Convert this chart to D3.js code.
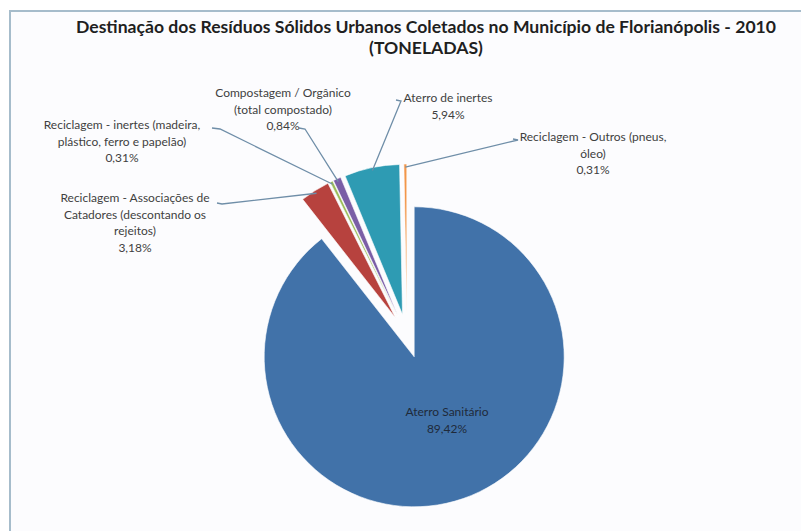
<!DOCTYPE html>
<html>
<head>
<meta charset="utf-8">
<script src="https://cdn.jsdelivr.net/npm/d3@7"></script>
<style>
  html, body { margin: 0; padding: 0; background: #fff; }
  svg { display: block; }
</style>
</head>
<body>
<svg id="chart"></svg>
<script>
/* Data */
var categories = [
    "Aterro Sanitário",
    "Reciclagem - Associações de Catadores (descontando os rejeitos)",
    "Reciclagem - inertes (madeira, plástico, ferro e papelão)",
    "Compostagem / Orgânico (total compostado)",
    "Aterro de inertes",
    "Reciclagem - Outros (pneus, óleo)"
];
var percents = [89.42, 3.18, 0.31, 0.84, 5.94, 0.31];
var percentLabels = ["89,42%", "3,18%", "0,31%", "0,84%", "5,94%", "0,31%"];
// label text broken the way the original wraps it
var labelLines = [
    ["Aterro Sanitário"],
    ["Reciclagem - Associações de", "Catadores (descontando os", "rejeitos)"],
    ["Reciclagem - inertes (madeira,", "plástico, ferro e papelão)"],
    ["Compostagem / Orgânico", "(total compostado)"],
    ["Aterro de inertes"],
    ["Reciclagem - Outros (pneus,", "óleo)"]
];
var colors = ["#4172a9", "#b7423e", "#9bbb59", "#7a5ea6", "#2e9bb3", "#f2964a"];
var titleLines = [
    "Destinação dos Resíduos Sólidos Urbanos Coletados no Município de Florianópolis - 2010",
    "(TONELADAS)"
];

/* Layout options */
var options = {
    width: 801,
    height: 531,
    cx: 407,
    cy: 336,
    radius: 150,
    explode: 22,
    font: "Lato, 'Open Sans', sans-serif",
    textColor: "#3f3f3f",
    leaderColor: "#6f8ea8"
};
// where each data label sits (centre of the first line) -- placed by hand in the original
var labelPos = [
    [447, 412],
    [135, 198],
    [122, 125],
    [283, 93],
    [448, 98],
    [593, 137]
];
// leader line start: [x, y, elbow x]
var leaderStart = [
    null,
    [217, 203, 222],
    [212, 128, 220],
    [299, 128, 305],
    [396, 100, 401],
    [513, 139, 518]
];

/* Drawing */
var svg = d3.select("#chart")
    .attr("width", options.width)
    .attr("height", options.height);

svg.append("rect")
    .attr("x", 10).attr("y", 11)
    .attr("width", options.width + 10).attr("height", options.height + 10)
    .attr("fill", "#fcfcfe")
    .attr("stroke", "#a6bccb")
    .attr("stroke-width", 2);

svg.selectAll("text.title")
    .data(titleLines)
    .enter().append("text")
    .attr("class", "title")
    .attr("x", 426)
    .attr("y", function(d, i){ return 33 + i * 21; })
    .attr("text-anchor", "middle")
    .style("font-family", options.font)
    .style("font-weight", "bold")
    .style("font-size", "17.6px")
    .style("fill", "#1f1f1f")
    .text(function(d){ return d; });

var pie = d3.pie().sort(null).startAngle(0).endAngle(2 * Math.PI);
var arcs = pie(percents);
var arc = d3.arc().innerRadius(0).outerRadius(options.radius);

function mid(d){ return (d.startAngle + d.endAngle) / 2; }
function offset(d, r){
    var a = mid(d);
    return [Math.sin(a) * r, -Math.cos(a) * r];
}

var g = svg.append("g")
    .attr("transform", "translate(" + options.cx + "," + options.cy + ")");

g.selectAll("path.slice")
    .data(arcs)
    .enter().append("path")
    .attr("class", "slice")
    .attr("d", arc)
    .attr("transform", function(d){
        var o = offset(d, options.explode);
        return "translate(" + o[0] + "," + o[1] + ")";
    })
    .attr("fill", function(d, i){ return colors[i]; })
    .attr("stroke", "#fff")
    .attr("stroke-width", 0.6);

// leader lines
svg.selectAll("polyline.leader")
    .data(arcs.filter(function(d, i){ return leaderStart[i]; }))
    .enter().append("polyline")
    .attr("class", "leader")
    .attr("points", function(d){
        var s = leaderStart[d.index];
        var e = offset(d, options.radius + options.explode - 3);
        return [[s[0], s[1]], [s[2], s[1] + 1], [options.cx + e[0], options.cy + e[1]]]
            .map(function(p){ return p.join(","); }).join(" ");
    })
    .attr("fill", "none")
    .attr("stroke", options.leaderColor)
    .attr("stroke-width", 1.3);

// data labels
var labels = svg.selectAll("text.label")
    .data(arcs)
    .enter().append("text")
    .attr("class", "label")
    .attr("text-anchor", "middle")
    .style("font-family", options.font)
    .style("font-size", "12px")
    .style("fill", function(d, i){ return i === 0 ? "#1f2a3a" : options.textColor; });

labels.selectAll("tspan")
    .data(function(d){
        return labelLines[d.index].concat([percentLabels[d.index]])
            .map(function(t){ return {t: t, i: d.index}; });
    })
    .enter().append("tspan")
    .attr("x", function(d){ return labelPos[d.i][0]; })
    .attr("y", function(d, j){ return labelPos[d.i][1] + 4 + j * 16.5; })
    .text(function(d){ return d.t; });
</script>
</body>
</html>
